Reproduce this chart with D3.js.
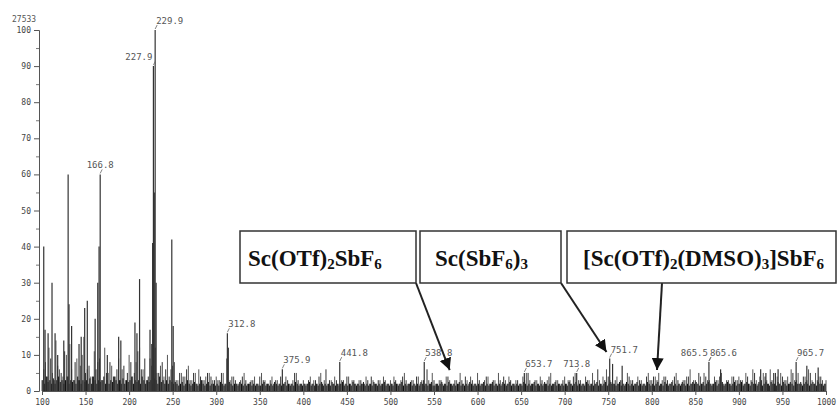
<!DOCTYPE html>
<html>
<head>
<script src="https://d3js.org/d3.v7.min.js"></script>
<style>
  body { margin: 0; background: #fff; }
  .mono { font-family: 'DejaVu Sans Mono', monospace; }
</style>
</head>
<body>
<div id="container"></div>
<script>
// labelled / tall peaks (m/z, relative intensity %)
const peakMz  = [102, 103.5, 107, 111.5, 115, 118, 125, 130, 131, 134, 142.5, 145, 149, 152, 161, 164, 165.5, 166.8, 175,
                 188, 190.5, 206.7, 209, 212, 224, 226, 227, 227.9, 228.9, 229.9, 231, 249, 250.6,
                 312.8, 375.9, 441.8, 538.8, 653.7, 713.8, 751.7, 755, 766, 865.6, 879, 925, 931, 940, 945, 965.7, 978, 991];
const peakInt = [40, 17, 16, 30, 16, 10, 14, 60, 24, 18, 13, 15, 23, 25, 20, 30, 40, 60, 10,
                 15, 14, 19, 16, 31, 17, 13, 41, 90, 55, 100, 30, 42, 18,
                 16, 6, 8, 8, 5, 5, 9, 7.5, 7, 8, 6, 6, 5, 5, 6, 8, 7, 6.5];

// background sticks, every 4 u from 100 and from 102
const noiseA = [3,8,12,5,14,6,4,10,13,3,9,7,15,6,4,11,8,3,12,5,7,4,9,6,3,
                10,4,8,12,6,3,9,15,5,7,4,10,6,8,3,5,4,7,3,5,6,3,4,5,3,
                4,3,5,9,3,4,2,3,5,2,3,4,2,5,3,2,4,3,2,3,4,2,3,5,2,
                3,2,4,3,2,5,3,2,3,4,2,3,2,4,3,2,3,2,4,2,3,2,3,4,2,
                3,4,2,3,5,2,3,2,4,3,2,3,5,2,3,2,4,3,2,3,5,2,3,4,2,
                5,2,3,4,2,3,5,2,3,4,2,3,2,4,5,3,2,3,4,2,3,5,2,3,2,
                4,3,2,5,3,2,4,3,5,2,3,4,6,3,2,4,3,2,5,3,2,4,3,2,5,
                3,4,5,3,4,2,3,5,2,3,4,6,3,2,4,5,3,2,4,3,5,2,3,4,3,
                4,3,5,2,6,3,4,5,3,6,2,4,5,3,4,6,3,5,2,4,6,3,5,4,3, 3];
const noiseB = [6,4,9,3,7,5,11,4,6,8,3,10,5,7,4,6,9,3,5,8,4,6,3,7,5,
                8,5,11,6,9,4,7,12,5,8,6,4,7,3,5,4,6,3,5,2,4,3,5,4,3,
                3,5,2,12,4,3,2,4,3,2,3,2,4,3,2,3,2,3,4,2,3,2,5,3,2,
                2,3,2,3,4,2,6,3,2,3,2,3,4,2,3,2,3,2,3,4,2,3,2,3,2,
                2,3,2,4,3,2,3,4,2,3,6,2,3,2,3,2,4,2,3,2,3,4,2,3,2,
                3,2,4,2,3,2,3,4,2,3,2,3,2,3,5,2,3,2,3,2,4,2,3,2,3,
                2,3,4,2,3,2,3,2,3,6,2,3,4,2,3,2,3,2,4,3,2,3,2,4,3,
                4,3,2,4,3,2,4,3,2,3,4,2,3,5,2,4,3,2,3,4,2,3,2,4,3,
                3,2,4,3,5,2,3,4,2,3,5,2,4,3,2,5,3,2,4,3,5,2,3,4,2];
// low dense floor, every 2 u from 101
const noiseC = [3,2,4,2.5,3,2,3.5,2,3,4,2.5,3,2,3,4,2,3,2.5,3,2,4,3,2,3,2.5,
                3,2,3.5,2,4,3,2,3,2.5,3,4,2,3,2,3,2.5,4,3,2,3,2,3.5,2,3,2.5,
                3,4,2,3,2.5,3,2,4,3,2,3,2.5,3,2,3.5,3,2,4,2.5,3,2,3,2,3,2.5,
                2,2.5,2,1.5,2,2.5,1.5,2,3,2,1.5,2,2.5,2,1.5,2,3,2,1.5,2,2.5,1.5,2,2,1.5,
                2,1.5,2.5,2,1.5,2,1.5,2.5,2,1.5,2,2,1.5,2.5,2,1.5,2,1.5,2,2.5,1.5,2,1.5,2,1.5,
                1.5,2,2.5,1.5,2,1.5,2,1.5,2.5,2,1.5,2,1.5,2,2.5,1.5,2,1.5,2,1.5,2.5,2,1.5,2,1.5,
                2,1.5,2,2.5,1.5,2,1.5,2,1.5,2,2.5,1.5,2,1.5,2,1.5,2.5,2,1.5,2,1.5,2,2.5,1.5,2,
                1.5,2,1.5,2.5,2,1.5,2,1.5,2,2.5,1.5,2,1.5,2,1.5,2.5,2,1.5,2,1.5,2,2.5,1.5,2,1.5,
                2,1.5,2.5,2,1.5,2,2.5,1.5,2,1.5,2,2.5,1.5,2,1.5,2,1.5,2.5,2,1.5,2,1.5,2,2.5,1.5,
                1.5,2,1.5,2,2.5,1.5,2,1.5,2.5,2,1.5,2,1.5,2,2.5,1.5,2,1.5,2,1.5,2.5,2,1.5,2,1.5,
                2,1.5,2,2.5,1.5,2,1.5,2,2.5,1.5,2,1.5,2,1.5,2.5,2,1.5,2,2.5,1.5,2,1.5,2,1.5,2,
                1.5,2.5,2,1.5,2,1.5,2,2.5,1.5,2,1.5,2,1.5,2.5,2,1.5,2,1.5,2,2.5,1.5,2,1.5,2,1.5,
                2,1.5,2.5,2,1.5,2,2.5,1.5,2,1.5,2,1.5,2.5,2,1.5,2,1.5,2,2.5,1.5,2,1.5,2,2.5,1.5,
                2,2.5,1.5,2,1.5,2,2.5,1.5,2,1.5,2.5,2,1.5,2,1.5,2,2.5,1.5,2,1.5,2,1.5,2.5,2,1.5,
                2,1.5,2,2.5,1.5,2,1.5,2.5,2,1.5,2,2.5,1.5,2,1.5,2,1.5,2.5,2,1.5,2,1.5,2,2.5,2,
                2.5,2,1.5,2,2.5,1.5,2,2.5,2,1.5,2,2.5,1.5,2,2,2.5,1.5,2,2.5,2,1.5,2,2.5,1.5,2,
                2,2.5,1.5,2,2.5,2,1.5,2.5,2,2,1.5,2.5,2,1.5,2,2.5,2,1.5,2.5,2,2,1.5,2.5,2,1.5,
                2.5,2,1.5,2,2.5,2,1.5,2.5,2,2,2.5,1.5,2,2.5,2,1.5,2,2.5,2,1.5,2.5,2,2,1.5,2];

const labelText = ["166.8", "227.9", "229.9", "312.8", "375.9", "441.8", "538.8", "653.7", "713.8", "751.7", "865.5", "865.6", "965.7"];
const labelMz   = [166.8, 227.9, 229.9, 312.8, 375.9, 441.8, 538.8, 653.7, 713.8, 751.7, 865.6, 865.6, 965.7];
const labelAnchor = ["middle", "end", "start", "start", "start", "start", "start", "start", "middle", "start", "end", "start", "start"];

const yTicks = [0, 10, 20, 30, 40, 50, 60, 70, 80, 90, 100];
const xTicks = [100, 150, 200, 250, 300, 350, 400, 450, 500, 550, 600, 650, 700, 750, 800, 850, 900, 950, 1000];

const width = 838, height = 410;
const svg = d3.select("#container").append("svg")
    .attr("width", width).attr("height", height);

const x = d3.scaleLinear().domain([100, 1000]).range([42, 826]);
const y = d3.scaleLinear().domain([0, 100]).range([391, 30]);

// noise
const noise = noiseA.map((v, i) => ({ mz: 100 + 4 * i, v, c: "#555" }))
    .concat(noiseB.map((v, i) => ({ mz: 102 + 4 * i, v, c: "#333" })))
    .concat(noiseC.map((v, i) => ({ mz: 101 + 2 * i, v, c: "#111" })));
svg.append("g").selectAll("line").data(noise).join("line")
    .attr("x1", d => x(d.mz)).attr("x2", d => x(d.mz))
    .attr("y1", y(0)).attr("y2", d => y(d.v))
    .attr("stroke", d => d.c).attr("stroke-width", 1);

// main peaks
const peaks = peakMz.map((m, i) => ({ mz: m, v: peakInt[i] }));
svg.append("g").selectAll("line").data(peaks).join("line")
    .attr("x1", d => x(d.mz)).attr("x2", d => x(d.mz))
    .attr("y1", y(0)).attr("y2", d => y(d.v))
    .attr("stroke", "#333").attr("stroke-width", 1.2);

// peak labels
const peakTop = m => {
    let best = 0;
    peaks.forEach(p => { if (Math.abs(p.mz - m) < 0.05) best = Math.max(best, p.v); });
    return best;
};
const lab = svg.append("g").attr("class", "mono").attr("font-size", 9).attr("fill", "#555");
labelText.forEach((t, i) => {
    const px = x(labelMz[i]), py = y(peakTop(labelMz[i]));
    const a = labelAnchor[i];
    const tx = a === "start" ? px + 1 : a === "end" ? px - 1 : px;
    lab.append("line").attr("x1", px).attr("y1", py - 1).attr("x2", px + 2).attr("y2", py - 5)
        .attr("stroke", "#666").attr("stroke-width", 0.8);
    lab.append("text").attr("x", tx).attr("y", py - 6).attr("text-anchor", a).text(t);
});

// axes
const yAxis = svg.append("g").attr("class", "mono").attr("transform", "translate(39,0)")
    .call(d3.axisLeft(y).tickValues(yTicks).tickSize(5).tickPadding(3).tickFormat(d3.format("d")));
const xAxis = svg.append("g").attr("class", "mono").attr("transform", `translate(0,${y(0)})`)
    .call(d3.axisBottom(x).tickValues(xTicks).tickSize(4).tickPadding(4).tickFormat(d3.format("d")));
[yAxis, xAxis].forEach(g => {
    g.selectAll("text").attr("font-size", 8).attr("fill", "#444").attr("font-family", "'DejaVu Sans Mono', monospace");
    g.selectAll("line, path").attr("stroke", "#555");
});
svg.append("g").attr("transform", "translate(39,0)")
    .call(d3.axisLeft(y).tickValues(yTicks.slice(0, -1).map(v => v + 5)).tickSize(3).tickFormat(""))
    .call(g => g.select(".domain").remove())
    .selectAll("line").attr("stroke", "#777");
svg.append("text").attr("class", "mono").attr("x", 12).attr("y", 22)
    .attr("font-size", 8).attr("fill", "#555").text("27533");

// annotation boxes
const boxes = [
    { x0: 240, x1: 416, parts: [["Sc(OTf)"], ["2", 1], ["SbF"], ["6", 1]], tx: 248, arrow: [568, 5.8], from: 416 },
    { x0: 420, x1: 561, parts: [["Sc(SbF"], ["6", 1], [")"], ["3", 1]], tx: 435, arrow: [748, 10.8], from: 561 },
    { x0: 567, x1: 836, parts: [["[Sc(OTf)"], ["2", 1], ["(DMSO)"], ["3", 1], ["]SbF"], ["6", 1]], tx: 583, arrow: [806, 5.8], from: 662 }
];
const defs = svg.append("defs");
defs.append("marker").attr("id", "head").attr("viewBox", "0 0 10 10").attr("refX", 10).attr("refY", 5)
    .attr("markerWidth", 6).attr("markerHeight", 6).attr("orient", "auto-start-reverse")
    .append("path").attr("d", "M0,0L10,5L0,10z").attr("fill", "#111");

const ann = svg.append("g");
boxes.forEach(b => {
    ann.append("line").attr("x1", b.from).attr("y1", 283).attr("x2", x(b.arrow[0])).attr("y2", y(b.arrow[1]))
        .attr("stroke", "#222").attr("stroke-width", 2).attr("marker-end", "url(#head)");
    ann.append("rect").attr("x", b.x0).attr("y", 231).attr("width", b.x1 - b.x0).attr("height", 52)
        .attr("fill", "#fff").attr("stroke", "#333").attr("stroke-width", 1.5);
    const t = ann.append("text").attr("x", b.tx).attr("y", 266)
        .attr("font-family", "'Liberation Serif', serif").attr("font-weight", "bold")
        .attr("font-size", 23).attr("fill", "#111");
    let sub = false;
    b.parts.forEach(p => {
        const s = t.append("tspan").text(p[0]);
        if (p[1]) { s.attr("font-size", 15).attr("dy", sub ? 0 : 3); sub = true; }
        else { s.attr("dy", sub ? -3 : 0); sub = false; }
    });
});
</script>
</body>
</html>
